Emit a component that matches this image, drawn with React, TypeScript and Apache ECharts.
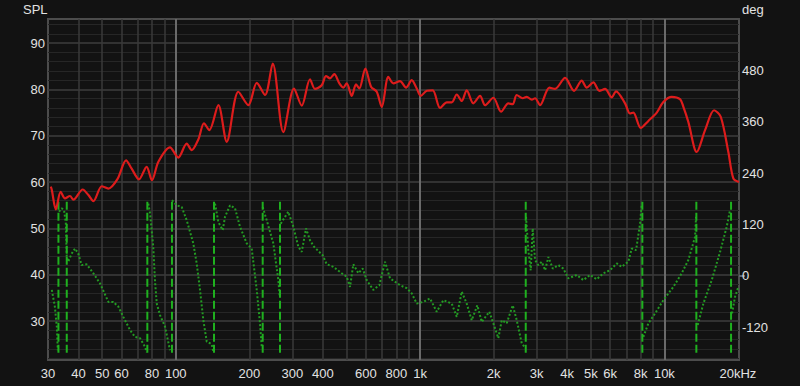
import React, { useEffect, useRef } from "react";
import * as echarts from "echarts";

// Frequency response (SPL, dB)
const splHz = [30.8, 31.1, 32.3, 33.8, 35.2, 36.9, 38.1, 41.6, 43.9, 46.0, 49.8, 53.0, 57.8, 62.6, 66.0, 70.7, 76.0, 79.9, 84.9, 94.7, 102.4, 110.9, 116.2, 123.7, 130.5, 137.2, 149.4, 161.7, 180.4, 198.2, 214.6, 232, 249.4, 275.6, 304.9, 327.8, 354.4, 371.5, 395.8, 412.1, 427.9, 445.7, 467.2, 485.2, 501, 525.1, 546.8, 564.1, 597, 629.9, 664.8, 696.9, 741.6, 777.3, 827.9, 876.1, 924.4, 969, 1006, 1065, 1127, 1207, 1286, 1348, 1413, 1481, 1552, 1652, 1760, 1845, 1995, 2145, 2298, 2394, 2486, 2631, 2733, 2865, 2955, 3097, 3381, 3567, 3922, 4268, 4588, 4810, 5120, 5418, 5716, 6088, 6340, 6902, 7234, 7463, 8002, 8599, 9305, 9901, 10717, 11590, 11950, 12530, 13565, 14670, 15970, 17010, 18270, 19150, 20200];
const splDb = [59.0, 58.3, 54.1, 57.9, 56.5, 57.0, 56.2, 58.4, 57.2, 55.9, 59.1, 58.6, 60.7, 64.7, 62.9, 60.6, 63.3, 60.4, 64.4, 67.5, 65.3, 68.3, 66.9, 69.2, 72.7, 71.2, 76.6, 68.7, 79.5, 76.6, 81.4, 78.8, 85.6, 70.8, 80.2, 76.5, 82.2, 80.1, 80.9, 82.9, 82.4, 83.3, 81.3, 80.4, 81.3, 78.6, 81.1, 80.2, 84.5, 80.6, 79.5, 76.2, 82.7, 81.3, 81.8, 80.4, 82.0, 80.2, 78.6, 79.7, 79.8, 76.0, 77.2, 77.2, 78.9, 77.5, 79.8, 77.0, 78.6, 76.6, 78.2, 75.2, 77.0, 76.8, 78.8, 78.1, 78.4, 77.8, 78.1, 76.6, 80.4, 80.1, 82.5, 79.7, 81.9, 80.4, 81.5, 79.7, 80.1, 78.3, 79.6, 77.0, 74.8, 75.0, 71.7, 73.2, 75.0, 77.3, 78.4, 77.9, 76.3, 73.0, 66.5, 71.2, 75.5, 74.1, 66.5, 60.8, 60.0];

// Phase (deg), wrapped into -180..180
const phaseHz = [31.1, 32.0, 32.6, 32.9, 33.3, 34.1, 34.9, 35.5, 35.8, 36.3, 37.5, 38.7, 39.9, 41.2, 43.2, 46.0, 49.0, 53.0, 55.5, 58.2, 61.0, 65.0, 68.1, 71.4, 74.8, 76.1, 77.2, 78.5, 80.9, 82.2, 83.6, 86.2, 90.4, 94.7, 96.5, 100.9, 105.8, 110.9, 118.0, 121.8, 125.7, 129.7, 133.9, 140.3, 142.5, 144.8, 149.4, 155.7, 159.1, 166.8, 174.8, 183.2, 195.2, 204.6, 214.5, 221.2, 224.8, 226.9, 235.7, 250.8, 262.9, 266.5, 268.9, 280.0, 288.9, 302.8, 317.5, 327.8, 341.4, 354.5, 368.1, 399.5, 414.9, 441.5, 477.9, 500.9, 516.8, 533.1, 558.8, 582.5, 604.9, 643.7, 681.2, 718.7, 753.4, 827.9, 881.9, 924.4, 969.0, 1031, 1098, 1170, 1245, 1348, 1413, 1481, 1552, 1627, 1715, 1788, 1921, 1994, 2091, 2159, 2263, 2395, 2487, 2607, 2671, 2714, 2774, 2837, 2891, 2955, 3048, 3147, 3248, 3351, 3493, 3681, 3858, 4044, 4377, 4659, 4962, 5286, 5625, 5991, 6384, 6690, 7119, 7353, 7656, 7950, 8079, 8202, 8598, 9159, 9900, 10881, 11775, 12531, 13350, 13476, 13692, 14436, 15627, 16899, 17994, 18564, 18918, 19458, 20076];
const phaseDeg = [-33, -72, -119, -174, 150, 158, 154, 122, 44, 33, 52, 64, 52, 25, 27, 6, -18, -61, -61, -72, -96, -127, -143, -146, -166, -179, 169, 146, 68, -10, -65, -92, -119, -174, 177, 165, 161, 130, 76, 29, -33, -104, -154, -160, -178, 169, 126, 107, 138, 165, 158, 115, 76, 64, -33, -111, -166, 161, 130, 76, -10, -49, 122, 138, 150, 115, 68, 56, 111, 83, 68, 48, 27, 21, 6, -2, -26, 27, 6, 17, -10, -33, -22, 33, -6, -22, -29, -41, -65, -61, -53, -84, -57, -65, -96, -37, -65, -104, -69, -108, -84, -111, -146, -104, -111, -69, -104, -158, -166, 138, 60, 13, 111, 37, 25, 33, 13, 44, 17, 25, 17, -6, 2, -10, 2, -8, 6, 13, 29, 21, 33, 64, 60, 122, 169, -143, -111, -88, -57, -26, 6, 37, 91, 138, -115, -65, -10, 56, 115, 154, -88, -49, -26];
const wrapHz = [33.1, 35.8, 76.5, 96.5, 143.4, 226.9, 267.1, 2707, 8124, 13515, 18741];

const xLabelHz = [30, 40, 50, 60, 80, 100, 200, 300, 400, 600, 800, 1000, 2000, 3000, 4000, 5000, 6000, 8000, 10000, 20000];
const xLabelText = ["30", "40", "50", "60", "80", "100", "200", "300", "400", "600", "800", "1k", "2k", "3k", "4k", "5k", "6k", "8k", "10k", "20kHz"];
const xGridHz = [40, 50, 60, 70, 80, 90, 200, 300, 400, 500, 600, 700, 800, 900, 2000, 3000, 4000, 5000, 6000, 7000, 8000, 9000];
const xDecadeHz = [100, 1000, 10000];
const splTicks = [30, 40, 50, 60, 70, 80, 90];
const splMinorTicks = [22, 24, 26, 28, 32, 34, 36, 38, 42, 44, 46, 48, 52, 54, 56, 58, 62, 64, 66, 68, 72, 74, 76, 78, 82, 84, 86, 88, 92, 94];
const degTicks = [-120, 0, 120, 240, 360, 480];

const FONT = "'Liberation Sans', Arial, Helvetica, sans-serif";
const lx = (f: number) => Math.log10(f);

export default function App() {
  const ref = useRef<HTMLDivElement>(null);
  useEffect(() => {
    if (!ref.current) return;
    const chart = echarts.init(ref.current, undefined, { renderer: "svg" });
    const xMin = lx(30);
    const xMax = lx(20200);

    const splData = splHz.map((f, i) => [lx(f), splDb[i]]);
    const phaseData: any[] = [];
    phaseHz.forEach((f, i) => {
      if (i > 0 && Math.abs(phaseDeg[i] - phaseDeg[i - 1]) > 150) {
        phaseData.push([(lx(f) + lx(phaseHz[i - 1])) / 2, "-"]);
      }
      phaseData.push([lx(f), phaseDeg[i]]);
    });
    const wrapData: any[] = [];
    wrapHz.forEach((w) => {
      wrapData.push([lx(w), -180], [lx(w), 180], [lx(w), "-"]);
    });

    const labelFor = (v: number) => {
      for (let i = 0; i < xLabelHz.length; i++) {
        if (Math.abs(lx(xLabelHz[i]) - v) < 1e-6) return xLabelText[i];
      }
      return "";
    };

    const labelStyle = { color: "#e2e2e2", fontSize: 13, fontFamily: FONT };

    chart.setOption({
      animation: false,
      backgroundColor: "#121212",
      grid: {
        left: 48,
        right: 61,
        top: 19,
        bottom: 26,
        show: true,
        borderColor: "#4c4c4c",
        borderWidth: 2,
        backgroundColor: "transparent",
      },
      xAxis: [
        {
          type: "value",
          min: xMin,
          max: xMax,
          axisLine: { show: false },
          axisTick: { show: false, customValues: xGridHz.map(lx) },
          splitLine: { show: true, lineStyle: { color: "#3a3a3a", width: 1.5 } },
          axisLabel: {
            ...labelStyle,
            margin: 7,
            customValues: xLabelHz.map(lx),
            formatter: (v: number) => labelFor(v),
          },
        },
        {
          type: "value",
          min: xMin,
          max: xMax,
          axisLine: { show: false },
          axisTick: { show: false, customValues: xDecadeHz.map(lx) },
          splitLine: { show: true, lineStyle: { color: "#6a6a6a", width: 2 } },
          axisLabel: { show: false },
        },
      ],
      yAxis: [
        {
          type: "value",
          min: 21.6,
          max: 95.2,
          position: "left",
          axisLine: { show: false },
          axisTick: { show: false, customValues: splMinorTicks },
          splitLine: { show: true, lineStyle: { color: "#262626", width: 1 } },
          axisLabel: { ...labelStyle, margin: 3, customValues: splTicks },
        },
        {
          type: "value",
          min: 21.6,
          max: 95.2,
          position: "left",
          axisLine: { show: false },
          axisTick: { show: false, customValues: splTicks },
          splitLine: { show: true, lineStyle: { color: "#3e3e3e", width: 1.5 } },
          axisLabel: { show: false },
        },
        {
          type: "value",
          min: -197,
          max: 601,
          position: "right",
          axisLine: { show: false },
          axisTick: { show: true, customValues: [0], length: 6, lineStyle: { color: "#5d6470", width: 2 } },
          splitLine: { show: false },
          axisLabel: { ...labelStyle, margin: 3, customValues: degTicks },
        },
      ],
      graphic: [
        { type: "text", left: 23, top: 3, style: { text: "SPL", fill: "#e2e2e2", font: `13px ${FONT}` } },
        { type: "text", left: 742, top: 3, style: { text: "deg", fill: "#e2e2e2", font: `13px ${FONT}` } },
      ],
      series: [
        {
          type: "line",
          name: "phase",
          xAxisIndex: 0,
          yAxisIndex: 2,
          data: phaseData,
          showSymbol: false,
          symbol: "none",
          connectNulls: false,
          lineStyle: { color: "#239a23", width: 2, type: [2, 2] },
        },
        {
          type: "line",
          name: "wrap",
          xAxisIndex: 0,
          yAxisIndex: 2,
          data: wrapData,
          showSymbol: false,
          symbol: "none",
          connectNulls: false,
          lineStyle: { color: "#1fb01f", width: 2, type: [8, 3] },
        },
        {
          type: "line",
          name: "SPL",
          xAxisIndex: 0,
          yAxisIndex: 0,
          data: splData,
          showSymbol: false,
          symbol: "none",
          smooth: 0.3,
          lineStyle: { color: "#dd1c1c", width: 2.2 },
        },
      ],
    });
    return () => chart.dispose();
  }, []);
  return (
    <div
      ref={ref}
      style={{ position: "fixed", left: 0, top: 0, width: 800, height: 386 }}
    />
  );
}
